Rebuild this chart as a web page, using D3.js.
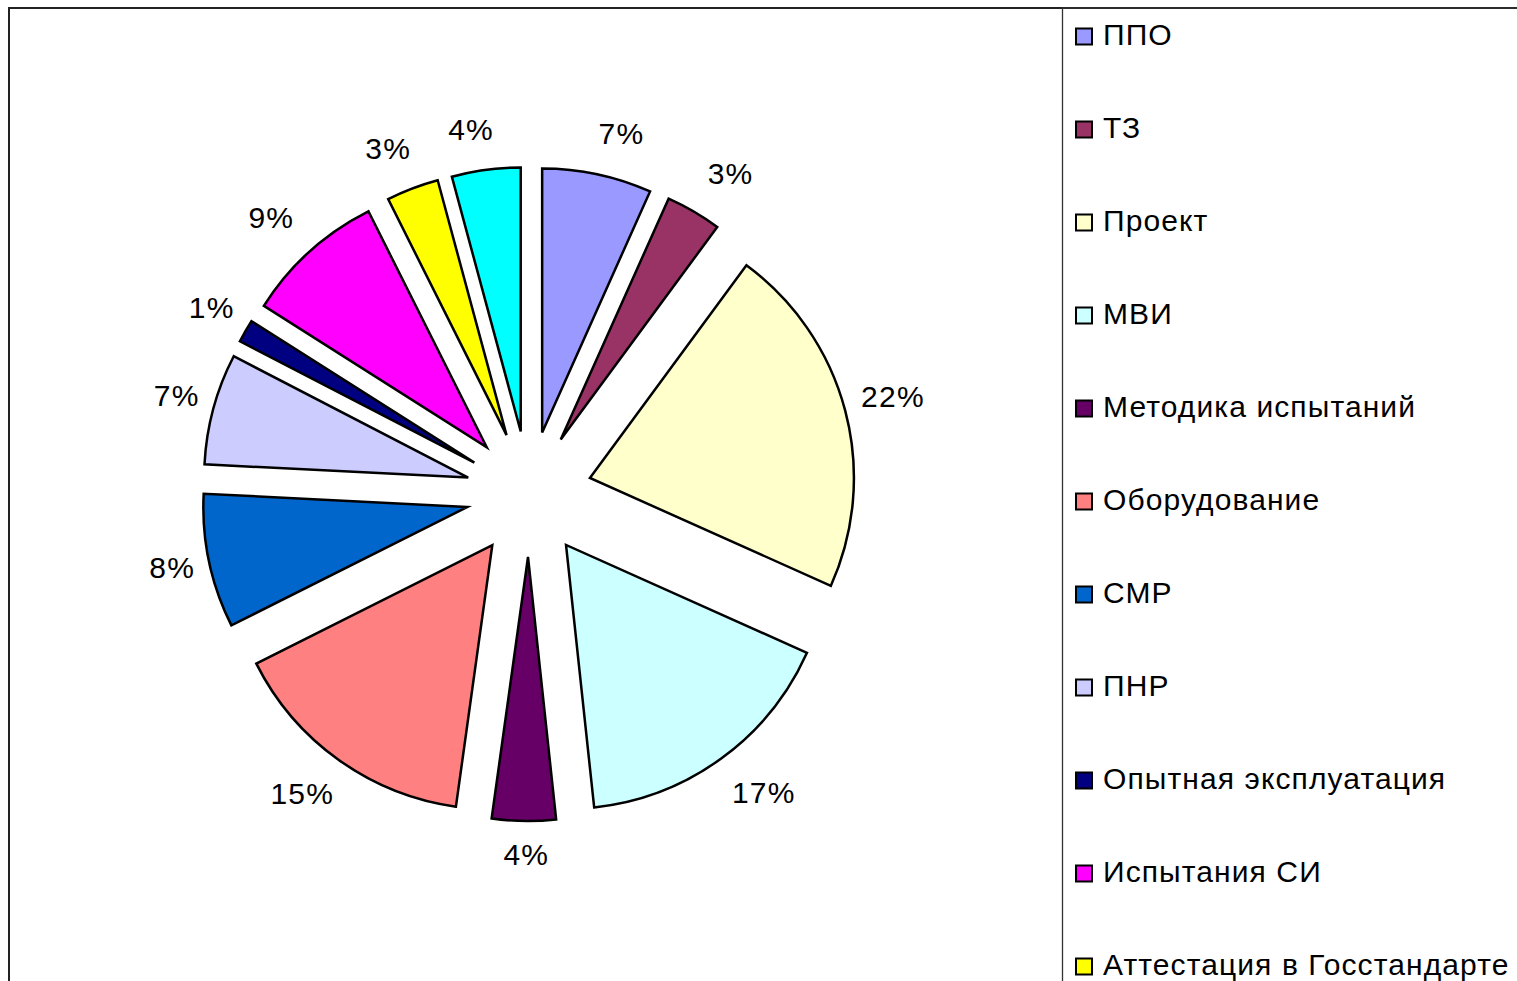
<!DOCTYPE html>
<html>
<head>
<meta charset="utf-8">
<script src="https://cdn.jsdelivr.net/npm/d3@7"></script>
<style>
  body { margin: 0; background: #fff; }
  svg { display: block; font-family: "Liberation Sans", Arial, sans-serif; }
</style>
</head>
<body>
<div id="pie_chart"></div>
<script>
// data (shares in %)
const categories = ["ППО", "ТЗ", "Проект", "МВИ", "Методика испытаний", "Оборудование",
    "СМР", "ПНР", "Опытная эксплуатация", "Испытания СИ", "Аттестация в Госстандарте", "Прочее"];
const shares = [6.7, 3.4, 21.6, 16.6, 3.9, 15.4, 8.2, 6.8, 1.4, 8.6, 3.2, 4.2];
const colors = ["#9999ff", "#993366", "#ffffcc", "#ccffff", "#660066", "#ff8080",
    "#0066cc", "#ccccff", "#000080", "#ff00ff", "#ffff00", "#00ffff"];

const width = 1517, height = 981;
const cx = 529, cy = 494;
const radius = 264, explode = 63;

const svg = d3.select("#pie_chart").append("svg")
    .attr("width", width)
    .attr("height", height);

// outer frame and legend frame
svg.append("rect")
    .attr("x", 9).attr("y", 8)
    .attr("width", 1700).attr("height", 1200)
    .attr("fill", "none").attr("stroke", "#222").attr("stroke-width", 2);
svg.append("rect")
    .attr("x", 1062.5).attr("y", 8)
    .attr("width", 700).attr("height", 1200)
    .attr("fill", "none").attr("stroke", "#333").attr("stroke-width", 1.3);

const color = d3.scaleOrdinal().domain(categories).range(colors);

const pie = d3.pie()
    .value(d => d.value)
    .sort(null);

const data_ready = pie(categories.map((c, i) => ({ name: c, value: shares[i] })));
const total = d3.sum(shares);

const arc = d3.arc().innerRadius(0).outerRadius(radius);

const g = svg.append("g").attr("transform", `translate(${cx}, ${cy})`);

const mid = d => (d.startAngle + d.endAngle) / 2;

g.selectAll("path")
    .data(data_ready)
    .join("path")
    .attr("d", arc)
    .attr("transform", d => {
        const a = mid(d);
        return `translate(${explode * Math.sin(a)}, ${-explode * Math.cos(a)})`;
    })
    .attr("fill", d => color(d.data.name))
    .attr("stroke", "black")
    .attr("stroke-width", 2.5);

// percentage labels outside each slice
const labels = g.selectAll("text.lbl")
    .data(data_ready)
    .join("text")
    .attr("class", "lbl")
    .attr("font-size", 30)
    .attr("letter-spacing", 1.2)
    .attr("text-anchor", "middle")
    .attr("fill", "#000")
    .text(d => Math.round(d.data.value / total * 100) + "%");

labels.each(function (d) {
    const a = mid(d);
    const s = Math.sin(a), c = Math.cos(a);
    const w = this.getComputedTextLength();
    const half = Math.abs(s) * w * 0.3 + Math.abs(c) * 11;
    const r = 352 + half;
    let x = r * s + 3;
    const y = -r * c - 3;
    if (Math.abs(s) > 0.1 && Math.abs(c) > 0.7) x += Math.sign(s) * 13;
    d3.select(this).attr("x", x).attr("y", y + 11);
});

// legend
const ly = d3.scalePoint()
    .domain(categories)
    .range([45, 45 + 93 * (categories.length - 1)]);

const legend = svg.append("g");
legend.selectAll("rect")
    .data(categories)
    .join("rect")
    .attr("x", 1076)
    .attr("y", d => ly(d) - 16.5)
    .attr("width", 16)
    .attr("height", 16)
    .attr("fill", d => color(d))
    .attr("stroke", "black")
    .attr("stroke-width", 2);
legend.selectAll("text")
    .data(categories)
    .join("text")
    .attr("x", 1103)
    .attr("y", d => ly(d))
    .attr("font-size", 30)
    .attr("letter-spacing", 1.1)
    .attr("fill", "#000")
    .text(d => d);
</script>
</body>
</html>
